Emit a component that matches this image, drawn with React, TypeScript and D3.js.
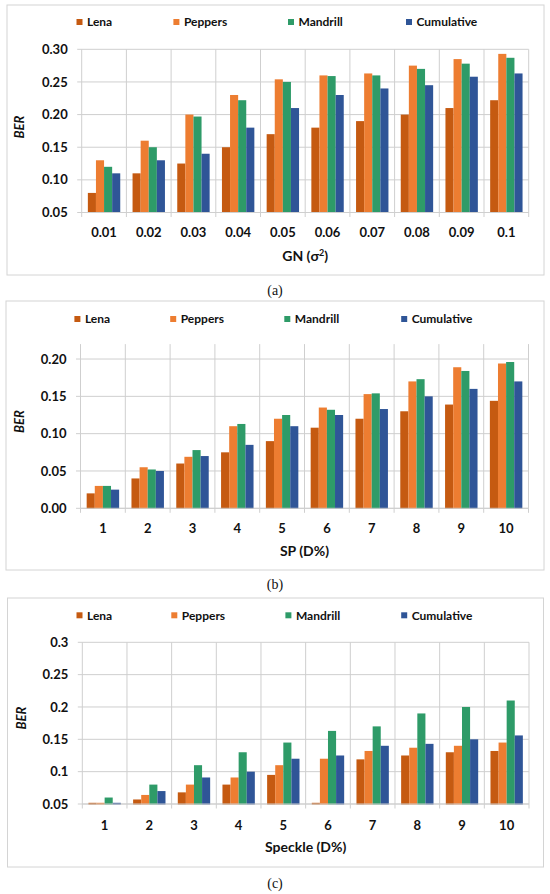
import * as d3 from 'd3';

const SERIES = ['Lena', 'Peppers', 'Mandrill', 'Cumulative'];
const COLORS = ['#C55A11', '#ED7D31', '#2E9B68', '#2F5597'];

// (a) Gaussian noise
const gnCats = ['0.01', '0.02', '0.03', '0.04', '0.05', '0.06', '0.07', '0.08', '0.09', '0.1'];
const gnLena = [0.08, 0.11, 0.125, 0.15, 0.17, 0.18, 0.19, 0.2, 0.21, 0.222];
const gnPeppers = [0.13, 0.16, 0.2, 0.23, 0.254, 0.26, 0.263, 0.275, 0.285, 0.293];
const gnMandrill = [0.12, 0.15, 0.197, 0.222, 0.25, 0.259, 0.26, 0.27, 0.278, 0.287];
const gnCumulative = [0.11, 0.13, 0.14, 0.18, 0.21, 0.23, 0.24, 0.245, 0.258, 0.263];
const gnTicks = [0.05, 0.1, 0.15, 0.2, 0.25, 0.3];

// (b) salt & pepper
const spCats = ['1', '2', '3', '4', '5', '6', '7', '8', '9', '10'];
const spLena = [0.02, 0.04, 0.06, 0.075, 0.09, 0.108, 0.12, 0.13, 0.139, 0.144];
const spPeppers = [0.03, 0.055, 0.069, 0.11, 0.12, 0.135, 0.153, 0.17, 0.189, 0.194];
const spMandrill = [0.03, 0.052, 0.078, 0.113, 0.125, 0.132, 0.154, 0.173, 0.184, 0.196];
const spCumulative = [0.025, 0.05, 0.07, 0.085, 0.11, 0.125, 0.133, 0.15, 0.16, 0.17];
const spTicks = [0, 0.05, 0.1, 0.15, 0.2];

// (c) speckle
const spkCats = ['1', '2', '3', '4', '5', '6', '7', '8', '9', '10'];
const spkLena = [0.048, 0.057, 0.068, 0.08, 0.095, 0.048, 0.119, 0.125, 0.13, 0.132];
const spkPeppers = [0.048, 0.064, 0.08, 0.091, 0.11, 0.12, 0.132, 0.137, 0.14, 0.145];
const spkMandrill = [0.06, 0.08, 0.11, 0.13, 0.145, 0.163, 0.17, 0.19, 0.2, 0.21];
const spkCumulative = [0.048, 0.07, 0.091, 0.1, 0.12, 0.125, 0.14, 0.143, 0.15, 0.156];
const spkTicks = [0.05, 0.1, 0.15, 0.2, 0.25, 0.3];

const FONT = 'Lato, "Open Sans", sans-serif';
const GRID = '#cfcfcf';
const INK = '#111';

interface PanelProps {
  cats: string[];
  series: number[][];
  ticks: number[];
  fmt: (v: number) => string;
  domain: [number, number];
  frame: { x: number; y: number; w: number; h: number };
  left: number;
  right: number;
  yBottom: number;
  yTop: number;
  legendY: number;
  legendX: number[];
  tickY: number;
  titleY: number;
  captionY: number;
  berX: number;
  berY: number;
  title: React.ReactNode;
  caption: string;
}

function Panel(p: PanelProps) {
  const x = d3.scaleBand<string>().domain(p.cats).range([p.left, p.right]);
  const xs = d3.scaleBand<string>().domain(SERIES).range([0, x.bandwidth()]).paddingOuter(0.76);
  const y = d3.scaleLinear().domain(p.domain).range([p.yBottom, p.yTop]).clamp(true);
  const y0 = y(p.domain[0]);
  const gridTop = y(p.domain[1]);
  const bounds = [...p.cats.map(c => x(c)!), p.right];

  return (
    <g>
      <rect x={p.frame.x} y={p.frame.y} width={p.frame.w} height={p.frame.h} fill="#fff" stroke="#d4d4d4" strokeWidth={1} />
      {/* legend */}
      {SERIES.map((s, i) => (
        <g key={s} transform={`translate(${p.legendX[i]},${p.legendY})`}>
          <rect x={0} y={-3} width={6} height={6} fill={COLORS[i]} />
          <text x={10.5} y={4.2} fontFamily={FONT} fontWeight={700} fontSize={12} fill={INK}>{s}</text>
        </g>
      ))}
      {/* horizontal grid */}
      {p.ticks.map(t => (
        <g key={t}>
          <line x1={p.left - 4.5} x2={p.right} y1={y(t)} y2={y(t)} stroke={GRID} strokeWidth={1} />
          <text x={p.left - 14} y={y(t) + 4.6} textAnchor="end" fontFamily={FONT} fontWeight={700} fontSize={13} fill={INK}>{p.fmt(t)}</text>
        </g>
      ))}
      {/* vertical grid */}
      {bounds.map((b, i) => (
        <line key={i} x1={b} x2={b} y1={gridTop} y2={y0 + 4.5} stroke={GRID} strokeWidth={1} />
      ))}
      {/* bars */}
      {p.cats.map((c, ci) => (
        <g key={c} transform={`translate(${x(c)},0)`}>
          {p.series.map((vals, si) => {
            const top = Math.min(y(vals[ci]), y0 - 1.2);
            return (
              <rect key={si} x={xs(SERIES[si])} y={top} width={xs.bandwidth()} height={y0 - top + 0.5} fill={COLORS[si]} />
            );
          })}
          <text x={x.bandwidth() / 2} y={p.tickY} textAnchor="middle" fontFamily={FONT} fontWeight={700} fontSize={13} fill={INK}>{c}</text>
        </g>
      ))}
      <line x1={p.left} x2={p.right} y1={y0} y2={y0} stroke={GRID} strokeWidth={1} />
      <text x={(p.left + p.right) / 2} y={p.titleY} textAnchor="middle" fontFamily={FONT} fontWeight={700} fontSize={14} fill={INK}>{p.title}</text>
      <text transform={`translate(${p.berX},${p.berY}) rotate(-90)`} textAnchor="middle" fontFamily={FONT} fontWeight={700} fontStyle="italic" fontSize={13} fill={INK}>BER</text>
      <text x={275} y={p.captionY} textAnchor="middle" fontFamily='"Liberation Serif", serif' fontSize={14} fill={INK}>{p.caption}</text>
    </g>
  );
}

export default function App() {
  return (
    <svg width={550} height={894} style={{ position: 'absolute', left: 0, top: 0, background: '#fff' }}>
      <Panel
        cats={gnCats}
        series={[gnLena, gnPeppers, gnMandrill, gnCumulative]}
        ticks={gnTicks}
        fmt={v => v.toFixed(2)}
        domain={[0.05, 0.3]}
        frame={{ x: 7, y: 5, w: 537, h: 270 }}
        left={81.7}
        right={528.7}
        yBottom={212.5}
        yTop={49.3}
        legendY={22}
        legendX={[76.5, 173.4, 288, 406]}
        tickY={237}
        titleY={261}
        captionY={295}
        berX={24}
        berY={127}
        title={<>GN (σ<tspan baselineShift="super" fontSize={9}>2</tspan>)</>}
        caption="(a)"
      />
      <Panel
        cats={spCats}
        series={[spLena, spPeppers, spMandrill, spCumulative]}
        ticks={spTicks}
        fmt={v => v.toFixed(2)}
        domain={[0, 0.22]}
        frame={{ x: 6, y: 301, w: 538, h: 269 }}
        left={80.5}
        right={528.5}
        yBottom={508.3}
        yTop={344.1}
        legendY={319}
        legendX={[74.4, 170.2, 284.3, 401.2]}
        tickY={533}
        titleY={556}
        captionY={589}
        berX={23.5}
        berY={421.7}
        title="SP (D%)"
        caption="(b)"
      />
      <Panel
        cats={spkCats}
        series={[spkLena, spkPeppers, spkMandrill, spkCumulative]}
        ticks={spkTicks}
        fmt={v => String(+v.toFixed(2))}
        domain={[0.05, 0.3]}
        frame={{ x: 7.5, y: 598, w: 536, h: 269 }}
        left={82.3}
        right={529}
        yBottom={804}
        yTop={642.3}
        legendY={615.3}
        legendX={[76.5, 171.3, 285.4, 401.2]}
        tickY={830}
        titleY={851.5}
        captionY={888}
        berX={25.5}
        berY={718}
        title="Speckle (D%)"
        caption="(c)"
      />
    </svg>
  );
}
